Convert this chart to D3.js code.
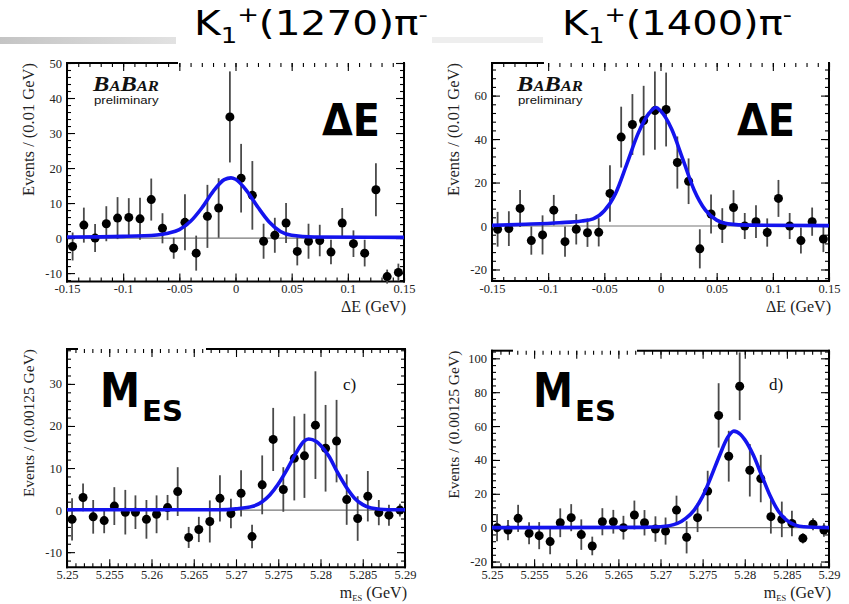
<!DOCTYPE html>
<html lang="en">
<head>
<meta charset="utf-8">
<title>K1(1270)pi and K1(1400)pi fits</title>
<script src="https://d3js.org/d3.v7.min.js"></script>
<style>
  html, body { margin: 0; padding: 0; background: #fff; }
  svg { display: block; }
</style>
</head>
<body>
<svg id="chart"></svg>
<script>
// ---- data ----
const dEBins = [-0.145,-0.135,-0.125,-0.115,-0.105,-0.095,-0.085,-0.075,-0.065,-0.055,-0.045,-0.035,-0.025,-0.015,-0.005,
                0.005,0.015,0.025,0.035,0.045,0.055,0.065,0.075,0.085,0.095,0.105,0.115,0.125,0.135,0.145];
const dE1270    = [-2.4,3.7,0,4.1,5.7,5.9,5.5,11,2.8,-2.9,4.5,-4.3,6.2,8.6,34.6,17.1,12.2,-0.9,0.8,4.3,-3.8,-0.9,-0.7,-4,4.3,-1.6,-4.3,13.8,-11,-9.8];
const dE1270Err = [4,5,4,5,6,5.5,6,6,4.3,3,8,5,9,8.5,13,9.8,9.8,5,5,5.7,4,5,4.5,3.5,4.3,3.8,3.8,7.6,2,2.5];
const dE1400    = [-1.5,-1.2,8.1,-6.7,-4.1,7.3,-7.2,-1.5,-3.1,-2.9,15,40.9,46.7,48.5,53.1,53.6,29.2,20.6,-10.5,5.5,0.2,8.5,0,2,-3,12.7,0,-6.7,2,-6];
const dE1400Err = [8,8,8.5,6.5,9,7,7,7,6.5,6.5,13,14,14,16,18,17,12,10.5,9,9,8,8,6,7.5,6.5,8.5,6,6,6.5,6];

const mESBins = [5.2506,5.2519,5.2531,5.2544,5.2556,5.2569,5.2581,5.2594,5.2606,5.2619,5.2631,5.2644,5.2656,5.2669,5.2681,5.2694,
                 5.2706,5.2719,5.2731,5.2744,5.2756,5.2769,5.2781,5.2794,5.2806,5.2819,5.2831,5.2844,5.2856,5.2869,5.2881,5.2894];
const mES1270    = [-2.2,3,-1.6,-2.5,0.95,-0.5,-0.5,-2.2,-1,0.6,4.4,-6.5,-4.6,-2.7,2.8,-0.8,4,-6.3,6,16.8,4.9,12.3,12.9,20.2,14.7,16.4,2.5,-2,3.3,-0.6,-1.2,0];
const mES1270Err = [5,3.3,4,3,4.5,5.3,4,4.6,4.5,3,5.8,2.5,3,5,5.5,3.5,5.5,2.8,7,7.5,5.3,10,10,12.8,10.3,9.8,6,5.3,6,3,2.5,1.5];
const mES1400    = [0,-1.4,5.5,-3.3,-4.7,-8.2,2.9,5.9,-4.1,-10.8,3.5,3.5,0,7.5,2.9,-0.8,-2,10.4,-5.7,5.9,21.6,66.3,42.2,83.5,33.9,29,6.5,4.9,2.5,-6.3,2,-1.4];
const mES1400Err = [8,6,8,6.5,8,7.5,8.5,8,9,5.5,8,7,7,8.5,7.5,7.5,8,8.5,9.5,8.5,12,19,15,20,15.5,14,10,10.5,7.5,3,3.5,4];

// fit curves
const fit1270dE = [[-0.15,0.3],[-0.1,0.5],[-0.07,0.9],[-0.06,1.4],[-0.05,2.4],[-0.04,4.8],[-0.03,8.6],[-0.02,13.3],[-0.01,16.7],
                   [-0.004,17.2],[0,16.8],[0.01,13.5],[0.02,8.8],[0.03,4.6],[0.04,1.9],[0.05,0.8],[0.07,0.3],[0.15,0.2]];
const fit1400dE = [[-0.15,0.3],[-0.12,0.8],[-0.09,1.5],[-0.07,2.3],[-0.06,3.3],[-0.05,7],[-0.04,15],[-0.03,28.5],[-0.02,42.5],[-0.01,52],
                   [-0.004,54.5],[0,53],[0.01,44.5],[0.02,30.5],[0.03,16.5],[0.04,7.3],[0.05,2.7],[0.06,1],[0.08,0.4],[0.15,0.2]];
const fit1270mES = [[5.25,0.1],[5.268,0.1],[5.27,0.3],[5.272,0.9],[5.274,3.6],[5.275,6.2],[5.276,9.5],[5.277,13.2],[5.278,16.3],[5.2786,16.9],
                    [5.2795,16.3],[5.28,15.4],[5.281,12.8],[5.282,9],[5.283,5.6],[5.284,2.9],[5.285,1.3],[5.286,0.5],[5.288,0.1],[5.29,0.1]];
const fit1400mES = [[5.25,0],[5.268,0.2],[5.27,0.5],[5.272,2.5],[5.273,5.5],[5.274,10.4],[5.275,18.5],[5.276,30],[5.277,42.5],[5.278,53.5],
                    [5.2787,57],[5.2795,55],[5.28,52],[5.281,43],[5.282,31],[5.283,19],[5.284,9.7],[5.285,4.3],[5.286,1.5],[5.287,0.5],[5.29,0]];

const dETicks  = [-0.15,-0.1,-0.05,0,0.05,0.1,0.15];
const mESTicks = [5.25,5.255,5.26,5.265,5.27,5.275,5.28,5.285,5.29];

// ---- drawing ----
const svg = d3.select("#chart").attr("width", 849).attr("height", 604);

const grad = svg.append("defs").append("linearGradient").attr("id", "barGrad");
grad.append("stop").attr("offset", "0%").attr("stop-color", "#c4c4c4");
grad.append("stop").attr("offset", "100%").attr("stop-color", "#e2e2e2");
svg.append("rect").attr("x", 0).attr("y", 37).attr("width", 176).attr("height", 7).attr("fill", "url(#barGrad)");
svg.append("rect").attr("x", 432).attr("y", 37).attr("width", 111).attr("height", 6).attr("fill", "#eeeeee");

// stretch a text horizontally so it spans x0..x1
function fitWidth(sel, x0, x1) {
    const bb = sel.node().getBBox();
    const s = (x1 - x0) / bb.width;
    sel.attr("transform", `translate(${x0 - bb.x * s},0) scale(${s},1)`);
}

function title(x0, x1, mass) {
    const t = svg.append("text").attr("y", 35).attr("font-family", "DejaVu Sans").attr("font-size", 33).attr("fill", "#000");
    t.append("tspan").text("K");
    t.append("tspan").attr("font-size", 21).attr("dy", 8).text("1");
    t.append("tspan").attr("font-size", 21).attr("dy", -21).text("+");
    t.append("tspan").attr("dy", 13).text(`(${mass})π`);
    t.append("tspan").attr("font-size", 21).attr("dy", -13).text("-");
    fitWidth(t, x0, x1);
}
title(194, 428, "1270");
title(562, 792, "1400");

function tickGroup(g, axisFn, scale, values, size, tx, ty, labels, pad) {
    const ax = axisFn(scale).tickValues(values).tickSize(-size).tickPadding(pad || 0)
        .tickFormat(labels ? (d => String(d)) : (() => ""));
    const sel = g.append("g").attr("transform", `translate(${tx},${ty})`).call(ax);
    sel.select(".domain").remove();
    sel.selectAll("line").attr("stroke", "#000").attr("stroke-width", 1.1);
    sel.selectAll("text").attr("font-family", "Liberation Serif").attr("font-size", 12.5).attr("fill", "#222");
}

function minorVals(dom, step) {
    const n = Math.round((dom[1] - dom[0]) / step);
    return d3.range(n + 1).map(i => dom[0] + i * step);
}

function panel(p) {
    const g = svg.append("g");
    const x = d3.scaleLinear().domain(p.xDom).range([p.left, p.right]);
    const y = d3.scaleLinear().domain(p.yDom).range([p.bottom, p.top]);
    const yMinorDom = [Math.ceil(p.yDom[0] / p.yMinor) * p.yMinor, Math.floor(p.yDom[1] / p.yMinor) * p.yMinor];

    // zero line
    g.append("line").attr("x1", p.left).attr("x2", p.right).attr("y1", y(0)).attr("y2", y(0))
        .attr("stroke", "#777").attr("stroke-width", 1.2);

    // ticks (inward, all four sides)
    tickGroup(g, d3.axisBottom, x, p.xTicks, 8, 0, p.bottom, true, 3);
    tickGroup(g, d3.axisBottom, x, minorVals(p.xDom, p.xMinor), 4, 0, p.bottom, false);
    tickGroup(g, d3.axisTop, x, p.xTicks, 8, 0, p.top, false);
    tickGroup(g, d3.axisTop, x, minorVals(p.xDom, p.xMinor), 4, 0, p.top, false);
    tickGroup(g, d3.axisLeft, y, p.yTicks, 8, p.left, 0, true, 5);
    tickGroup(g, d3.axisLeft, y, minorVals(yMinorDom, p.yMinor), 4, p.left, 0, false);
    tickGroup(g, d3.axisRight, y, p.yTicks, 8, p.right, 0, false);
    tickGroup(g, d3.axisRight, y, minorVals(yMinorDom, p.yMinor), 4, p.right, 0, false);

    // frame (top edge partly hidden behind the slide's text boxes)
    const frame = [[p.left, p.top, p.left, p.bottom], [p.left, p.bottom, p.right, p.bottom], [p.right, p.top, p.right, p.bottom]];
    p.topLine.forEach(s => frame.push([s[0], p.top, s[1], p.top]));
    g.selectAll(".frame").data(frame).enter().append("line")
        .attr("x1", d => d[0]).attr("y1", d => d[1]).attr("x2", d => d[2]).attr("y2", d => d[3])
        .attr("stroke", "#000").attr("stroke-width", 2).attr("stroke-linecap", "square");

    // data
    const pts = p.bins.map((b, i) => ({ x: b, v: p.vals[i], e: p.errs[i] }));
    g.selectAll(".err").data(pts).enter().append("line")
        .attr("x1", d => x(d.x)).attr("x2", d => x(d.x))
        .attr("y1", d => y(d.v - d.e)).attr("y2", d => y(Math.min(d.v + d.e, p.yDom[1])))
        .attr("stroke", "#4a4a4a").attr("stroke-width", 1.8);
    g.selectAll(".dot").data(pts).enter().append("circle")
        .attr("cx", d => x(d.x)).attr("cy", d => y(d.v)).attr("r", 4.5).attr("fill", "#000");

    // fit
    g.append("path").datum(p.curve)
        .attr("d", d3.line().x(d => x(d[0])).y(d => y(d[1])).curve(d3.curveMonotoneX))
        .attr("fill", "none").attr("stroke", "#1414ee").attr("stroke-width", 3.6);

    // y title
    g.append("text").attr("transform", `translate(${p.left - 33},${p.top}) rotate(-90)`)
        .attr("text-anchor", "end").attr("font-family", "Liberation Serif").attr("font-size", p.yTitleSize)
        .attr("fill", "#222").text(p.yTitle);

    // x title
    const xt = g.append("text").attr("x", p.right + 2).attr("y", p.xTitleY).attr("text-anchor", "end")
        .attr("font-family", "Liberation Serif").attr("font-size", 16).attr("fill", "#222");
    if (p.kind === "dE") {
        xt.text("ΔE (GeV)");
    } else {
        xt.append("tspan").text("m");
        xt.append("tspan").attr("font-size", 8.5).attr("dy", 3).text("ES");
        xt.append("tspan").attr("dy", -3).text(" (GeV)");
    }

    if (p.kind === "dE") {
        const logo = g.append("text").attr("y", 91.5).attr("font-family", "Liberation Serif")
            .attr("font-style", "italic").attr("font-weight", "bold").attr("fill", "#111");
        logo.append("tspan").attr("font-size", 22).text("B");
        logo.append("tspan").attr("font-size", 15).text("A");
        logo.append("tspan").attr("font-size", 22).text("B");
        logo.append("tspan").attr("font-size", 15).text("AR");
        fitWidth(logo, p.logoX, p.logoX + 67);
        const pre = g.append("text").attr("y", 104).attr("font-family", "Liberation Sans").attr("font-size", 11.5)
            .attr("fill", "#111").text("preliminary");
        fitWidth(pre, p.logoX + 2, p.logoX + 67);

        const big = g.append("text").attr("y", 136).attr("font-family", "DejaVu Sans").attr("font-weight", "bold")
            .attr("font-size", 44).attr("fill", "#000").text("ΔE");
        fitWidth(big, p.labelX, p.labelX + 58);
    } else {
        const m = g.append("text").attr("y", 407).attr("font-family", "DejaVu Sans").attr("font-weight", "bold")
            .attr("font-size", 48).attr("fill", "#000").text("M");
        fitWidth(m, p.labelX, p.labelX + 40);
        const es = g.append("text").attr("y", 421).attr("font-family", "DejaVu Sans").attr("font-weight", "bold")
            .attr("font-size", 29).attr("fill", "#000").text("ES");
        fitWidth(es, p.labelX + 42, p.labelX + 83);
        g.append("text").attr("x", p.tagX).attr("y", 390).attr("font-family", "Liberation Serif")
            .attr("font-size", 17).attr("fill", "#111").text(p.tag);
    }
}

panel({ kind: "dE", left: 67, right: 404, top: 63, bottom: 281.5, xDom: [-0.15, 0.15], yDom: [-12.4, 50],
        xTicks: dETicks, xMinor: 0.01, yTicks: [-10, 0, 10, 20, 30, 40, 50], yMinor: 2,
        bins: dEBins, vals: dE1270, errs: dE1270Err, curve: fit1270dE,
        yTitle: "Events / (0.01 GeV)", yTitleSize: 16.5, xTitleY: 312, topLine: [[67, 177]], logoX: 92, labelX: 322 });

panel({ kind: "dE", left: 492, right: 829, top: 63, bottom: 281, xDom: [-0.15, 0.15], yDom: [-25.3, 75],
        xTicks: dETicks, xMinor: 0.01, yTicks: [-20, 0, 20, 40, 60], yMinor: 4,
        bins: dEBins, vals: dE1400, errs: dE1400Err, curve: fit1400dE,
        yTitle: "Events / (0.01 GeV)", yTitleSize: 16.5, xTitleY: 312, topLine: [[492, 543]], logoX: 516, labelX: 737 });

panel({ kind: "mES", left: 67, right: 405, top: 349, bottom: 567.3, xDom: [5.25, 5.29], yDom: [-13.6, 38.3],
        xTicks: mESTicks, xMinor: 0.001, yTicks: [-10, 0, 10, 20, 30], yMinor: 2,
        bins: mESBins, vals: mES1270, errs: mES1270Err, curve: fit1270mES,
        yTitle: "Events / (0.00125 GeV)", yTitleSize: 15.5, xTitleY: 598, topLine: [[67, 77], [207, 405]], labelX: 100, tagX: 343, tag: "c)" });

panel({ kind: "mES", left: 492, right: 829, top: 350.7, bottom: 567.3, xDom: [5.25, 5.29], yDom: [-23.4, 104.5],
        xTicks: mESTicks, xMinor: 0.001, yTicks: [-20, 0, 20, 40, 60, 80, 100], yMinor: 4,
        bins: mESBins, vals: mES1400, errs: mES1400Err, curve: fit1400mES,
        yTitle: "Events / (0.00125 GeV)", yTitleSize: 15.5, xTitleY: 598, topLine: [[492, 512], [638, 829]], labelX: 533, tagX: 769, tag: "d)" });
</script>
</body>
</html>
